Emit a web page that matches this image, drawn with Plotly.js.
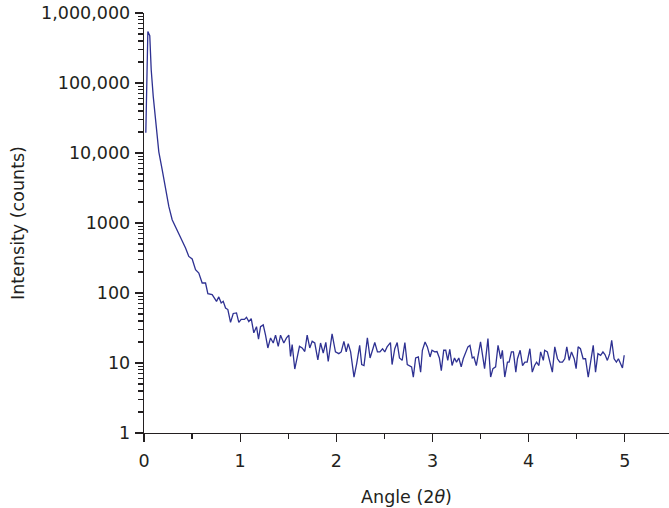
<!DOCTYPE html>
<html>
<head>
<meta charset="utf-8">
<script src="https://cdn.plot.ly/plotly-3.0.1.min.js"></script>
<style>html,body{margin:0;padding:0;background:#fff;}#chart{width:669px;height:508px;}</style>
</head>
<body>
<div id="chart"></div>
<script>
// Angle (2θ) values
const angle = [
  0.019, 0.040, 0.060, 0.075, 0.096, 0.120, 0.154, 0.189, 0.206, 0.224, 0.258, 0.293,
  0.335, 0.352, 0.380, 0.408, 0.432, 0.466, 0.501, 0.536, 0.570, 0.605, 0.640, 0.664,
  0.709, 0.754, 0.778, 0.803, 0.824, 0.848, 0.872, 0.900, 0.928, 0.962, 0.986, 1.011,
  1.045, 1.066, 1.090, 1.115, 1.142, 1.170, 1.191, 1.212, 1.240, 1.264, 1.288, 1.316,
  1.344, 1.368, 1.396, 1.420, 1.454, 1.482, 1.506, 1.524, 1.541, 1.568, 1.593, 1.617,
  1.645, 1.672, 1.697, 1.724, 1.749, 1.776, 1.808, 1.836, 1.864, 1.891, 1.916,
  1.956, 1.991, 2.026, 2.051, 2.079, 2.103, 2.124, 2.149, 2.184, 2.212, 2.243, 2.264,
  2.288, 2.323, 2.351, 2.376, 2.400, 2.428, 2.453, 2.481, 2.504, 2.528, 2.563, 2.580,
  2.608, 2.633, 2.657, 2.685, 2.713, 2.738, 2.766, 2.783, 2.801, 2.825, 2.853, 2.877,
  2.895, 2.923, 2.947, 2.975, 2.995, 3.023, 3.047, 3.072, 3.092, 3.117, 3.138, 3.159,
  3.180, 3.204, 3.229, 3.250, 3.274, 3.299, 3.320, 3.344, 3.369, 3.390, 3.414, 3.431,
  3.456, 3.500, 3.542, 3.577, 3.605, 3.629, 3.657, 3.682, 3.710, 3.727, 3.752, 3.780,
  3.797, 3.821, 3.842, 3.867, 3.884, 3.912, 3.937, 3.961, 3.985, 4.013, 4.038, 4.062,
  4.083, 4.107, 4.125, 4.153, 4.167, 4.195, 4.219, 4.247, 4.272, 4.300, 4.324, 4.352,
  4.376, 4.397, 4.422, 4.446, 4.474, 4.494, 4.515, 4.539, 4.567, 4.592, 4.620, 4.644,
  4.672, 4.696, 4.721, 4.749, 4.773, 4.794, 4.819, 4.843, 4.864, 4.889, 4.913, 4.934,
  4.959, 4.976, 4.994
];
// Intensity (counts) values
const intensity = [
  19500, 546000, 474000, 155000, 64400, 27100, 10400, 5770, 4160, 2990, 1727, 1114,
  849, 759, 644, 518, 439, 333, 306, 215, 193, 139, 139, 98,
  95, 76, 88, 72, 76, 61, 58, 38, 51, 52, 38, 42,
  42, 45, 39, 43, 27, 33, 22, 33, 35, 25, 16.4, 22.8,
  19.3, 25, 17.3, 25, 19.3, 22.8, 25, 12.4, 18.3, 8.2, 12.4, 17.3,
  16.4, 14.6, 25, 16.4, 20.4, 19.3, 11.1, 19.3, 13.9, 19.7, 10.5,
  26.0, 14.4, 13.6, 14.4, 20.4, 14.4, 18.9, 14.4, 6.3, 9.8, 17.9, 9.5,
  9.2, 22.8, 11.8, 15.2, 19.6, 14.4, 14.4, 16, 14.4, 17, 19.6, 9.5,
  16, 19.6, 11.8, 10.9, 19.6, 9.5, 9.2, 8.8, 6.3, 11.8, 12.2, 7.4,
  15.2, 20, 17, 12.2, 15.2, 14.4, 14.6, 11.8, 7.8, 15.2, 15.2, 10.9,
  15.7, 9.2, 11.8, 10.3, 11.8, 8.8, 11.5, 14.4, 17, 17.9, 11.8, 12.2,
  9.2, 20, 8.3, 22.3, 6.3, 8.3, 8.8, 17.9, 11.5, 15.2, 6.3, 10.3,
  10.3, 14.4, 14.4, 7.4, 11.5, 15.2, 9.2, 10.3, 10.3, 16, 7.4, 9.2,
  10.3, 9.2, 14.4, 10.9, 15.2, 14.4, 10.9, 7.4, 17, 11.5, 10.3, 10.3,
  11.5, 17, 10.9, 14.4, 11.5, 8.3, 17, 16, 11.5, 11.5, 6.3, 10.3,
  17.9, 7.4, 13.6, 12.9, 14.4, 13.2, 10.9, 13.6, 21.1, 11.5, 10.3, 11.5,
  9.8, 8.5, 12.9
];
const yTickVals = [1, 10, 100, 1000, 10000, 100000, 1000000];
const yTickText = ['1', '10', '100', '1000', '10,000', '100,000', '1,000,000'];
const xTickVals = [0, 1, 2, 3, 4, 5];

// minor log tick positions (2..9 within each decade) for the y axis
const yMinorVals = [];
for (let d = 0; d < 6; d++) {
  for (let m = 2; m <= 9; m++) yMinorVals.push(m * Math.pow(10, d));
}

const axisColor = '#231f20';
const fontFamily = '"DejaVu Sans", "Liberation Sans", Arial, sans-serif';
const fs = 17.5;

const trace = {
  x: angle, y: intensity, type: 'scatter', mode: 'lines',
  line: {color: '#2e3192', width: 1.3},
  hoverinfo: 'skip'
};
const minorHolder = {x: [], y: [], type: 'scatter', mode: 'lines', yaxis: 'y2', hoverinfo: 'skip'};

const layout = {
  width: 669, height: 508,
  margin: {l: 144, r: 0, t: 13, b: 75, pad: 0},
  paper_bgcolor: '#ffffff', plot_bgcolor: '#ffffff',
  showlegend: false,
  font: {family: fontFamily, size: fs, color: axisColor},
  xaxis: {
    range: [0, 5.46], tickmode: 'array', tickvals: xTickVals,
    showline: true, linecolor: axisColor, linewidth: 1.3,
    ticks: 'outside', ticklen: 8, tickwidth: 1.3, tickcolor: axisColor,
    minor: {dtick: 0.5, tick0: 0, ticks: 'outside', ticklen: 4.5, tickwidth: 1.3, tickcolor: axisColor, showgrid: false},
    showgrid: false, zeroline: false,
    ticklabelstandoff: 4,
    tickfont: {family: fontFamily, size: fs, color: axisColor},
    title: {text: 'Angle (2<i>θ</i>)', font: {family: fontFamily, size: fs, color: axisColor}, standoff: 20}
  },
  yaxis: {
    type: 'log', range: [0, 6], tickmode: 'array', tickvals: yTickVals, ticktext: yTickText,
    showline: true, linecolor: axisColor, linewidth: 1.3,
    ticks: 'outside', ticklen: 8, tickwidth: 1.3, tickcolor: axisColor,
    showgrid: false, zeroline: false,
    ticklabelstandoff: 1,
    tickfont: {family: fontFamily, size: fs, color: axisColor},
    title: {text: 'Intensity (counts)', font: {family: fontFamily, size: fs, color: axisColor}, standoff: 12}
  },
  yaxis2: {
    type: 'log', range: [0, 6], overlaying: 'y', side: 'left', anchor: 'x',
    tickmode: 'array', tickvals: yMinorVals, showticklabels: false,
    ticks: 'outside', ticklen: 5, tickwidth: 1.3, tickcolor: axisColor,
    showline: false, showgrid: false, zeroline: false
  }
};

Plotly.newPlot('chart', [trace, minorHolder], layout, {displayModeBar: false, staticPlot: true});
</script>
</body>
</html>
